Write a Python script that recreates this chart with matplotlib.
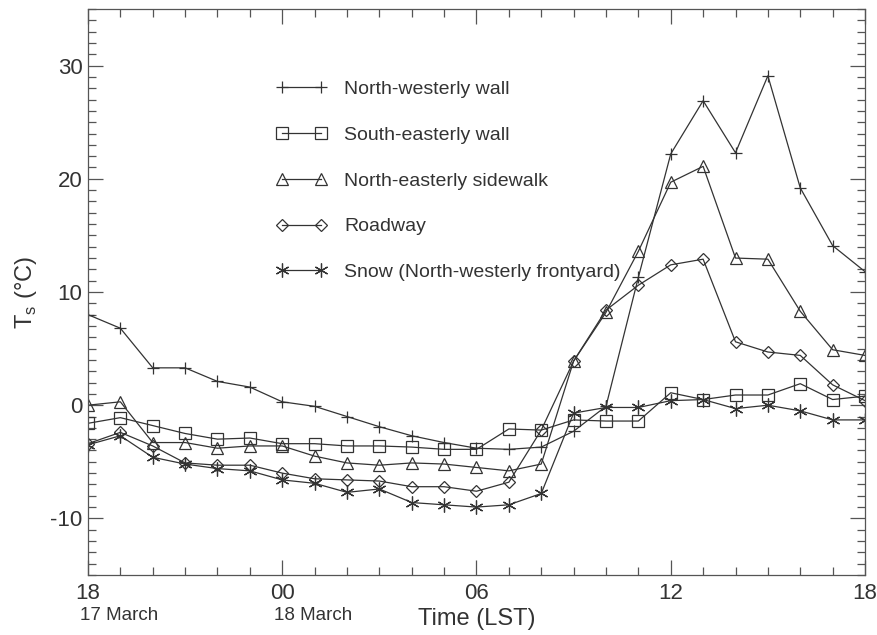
import matplotlib
matplotlib.use("Agg")
import matplotlib.pyplot as plt
from matplotlib.ticker import MultipleLocator

plt.rcParams['font.family'] = ['Liberation Sans', 'DejaVu Sans']
plt.rcParams['axes.unicode_minus'] = False

# hours since 18 LST on 17 March
hours = list(range(25))
tick_hours = [0, 6, 12, 18, 24]
tick_labels = ['18', '00', '06', '12', '18']

nw_wall = [8.0, 6.8, 3.3, 3.3, 2.1, 1.6, 0.3, -0.1, -1.0, -1.9, -2.7, -3.3, -3.8,
           -3.9, -3.7, -2.3, -0.1, 11.3, 22.2, 26.9, 22.3, 29.1, 19.2, 14.1, 11.8]
se_wall = [-1.6, -1.1, -1.8, -2.5, -3.0, -2.9, -3.4, -3.4, -3.6, -3.6, -3.7, -3.9, -3.9,
           -2.1, -2.2, -1.3, -1.4, -1.4, 1.1, 0.5, 0.9, 0.9, 1.9, 0.5, 0.8]
ne_sidewalk = [0.0, 0.3, -3.3, -3.3, -3.8, -3.6, -3.6, -4.5, -5.1, -5.3, -5.1, -5.2, -5.5,
               -5.8, -5.2, 3.9, 8.2, 13.6, 19.7, 21.1, 13.0, 12.9, 8.3, 4.9, 4.4]
roadway = [-3.4, -2.4, -3.6, -5.1, -5.3, -5.3, -6.0, -6.5, -6.6, -6.7, -7.2, -7.2, -7.6,
           -6.8, -2.2, 3.9, 8.4, 10.6, 12.4, 12.9, 5.6, 4.7, 4.4, 1.8, 0.4]
snow = [-3.5, -2.7, -4.6, -5.2, -5.6, -5.8, -6.6, -6.9, -7.7, -7.4, -8.6, -8.8, -9.0,
        -8.8, -7.8, -0.7, -0.2, -0.2, 0.4, 0.5, -0.3, 0.0, -0.5, -1.3, -1.3]

series = [
    (nw_wall, '+', 9, 'North-westerly wall'),
    (se_wall, 's', 8, 'South-easterly wall'),
    (ne_sidewalk, '^', 8, 'North-easterly sidewalk'),
    (roadway, 'D', 6, 'Roadway'),
    (snow, (6, 2, 0), 10, 'Snow (North-westerly frontyard)'),
]

ink = '#333333'
fig = plt.figure(figsize=(8.78, 6.35), dpi=100)
ax = fig.add_axes([0.1002, 0.0945, 0.885, 0.8913])

for vals, mk, ms, name in series:
    ax.plot(hours, vals, color=ink, lw=0.9, marker=mk, markersize=ms,
            markerfacecolor='none', markeredgecolor=ink, markeredgewidth=0.9,
            label=name)

ax.set_xlim(0, 24)
ax.set_ylim(-15, 35)
ax.set_xticks(tick_hours)
ax.set_xticklabels(tick_labels)
ax.xaxis.set_minor_locator(MultipleLocator(1))
ax.set_yticks([-10, 0, 10, 20, 30])
ax.yaxis.set_minor_locator(MultipleLocator(1))
ax.tick_params(which='both', direction='in', top=True, right=True,
               colors='#555555', labelcolor=ink, labelsize=16, width=0.9)
ax.tick_params(which='major', length=11)
ax.tick_params(which='minor', length=5.5)
ax.tick_params(axis='x', pad=6)
ax.tick_params(axis='y', pad=4)
for sp in ax.spines.values():
    sp.set_color('#555555')
    sp.set_linewidth(0.9)

ax.set_xlabel('Time (LST)', fontsize=17, color=ink, labelpad=3)
ax.set_ylabel('T$_\\mathregular{s}$ (°C)', fontsize=17, color=ink, labelpad=8)

# date labels under the midnight-bounded ticks
for h, day in [(0, '17 March'), (6, '18 March')]:
    ax.annotate(day, xy=(h, 0), xycoords=('data', 'axes fraction'),
                xytext=(-6, -23), textcoords='offset points',
                ha='left', va='top', fontsize=13.5, color=ink)

ax.legend(loc='upper left', bbox_to_anchor=(0.22, 0.905), frameon=False,
          numpoints=2, handlelength=2.6, handletextpad=0.9,
          labelspacing=1.45, fontsize=14, labelcolor=ink)

fig.savefig('out.png', dpi=100, facecolor='white')
